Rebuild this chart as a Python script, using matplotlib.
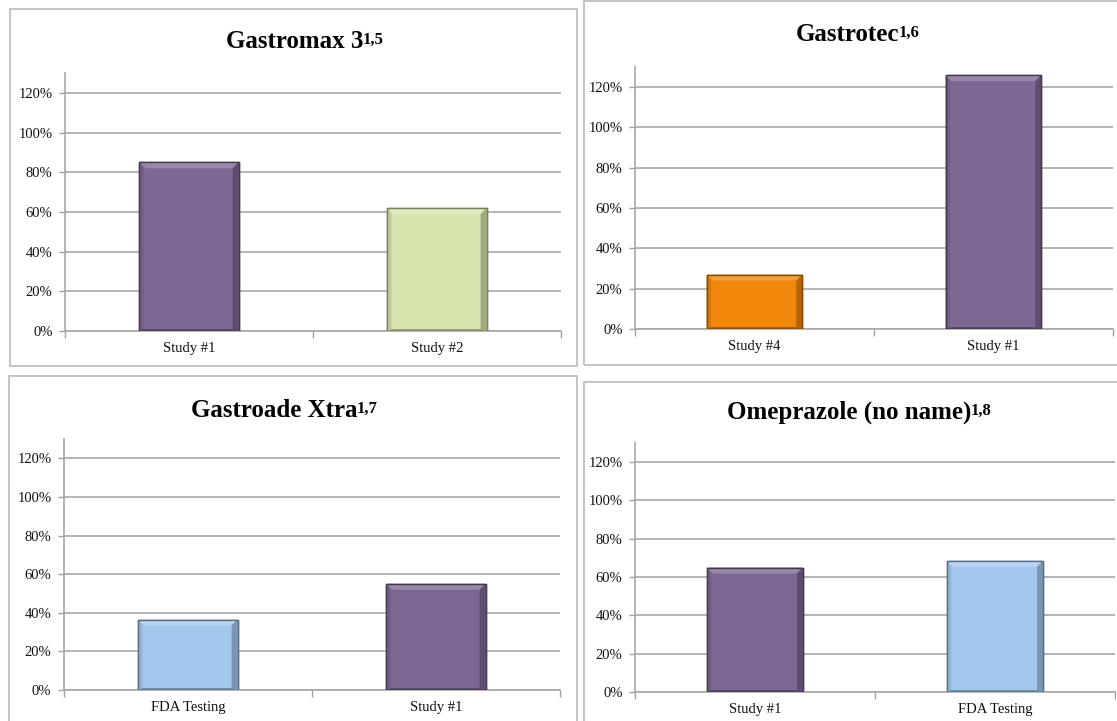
import matplotlib
matplotlib.use("Agg")
import matplotlib.pyplot as plt
from matplotlib.patches import Rectangle, Polygon
from matplotlib.colors import to_rgb
import numpy as np

# ---------------- data ----------------
titles = ["Gastromax 3", "Gastrotec", "Gastroade Xtra", "Omeprazole (no name)"]
refs = ["1,5", "1,6", "1,7", "1,8"]
categories_1 = ["Study #1", "Study #2"]
categories_2 = ["Study #4", "Study #1"]
categories_3 = ["FDA Testing", "Study #1"]
categories_4 = ["Study #1", "FDA Testing"]
values_1 = [85, 62]
values_2 = [27, 126]
values_3 = [36.5, 55]
values_4 = [65, 68.5]
ytick_values = [0, 20, 40, 60, 80, 100, 120]
ytick_labels = [f"{v}%" for v in ytick_values]

# ---------------- style ----------------
PURPLE = "#7d6793"
GREEN = "#d7e4ae"
ORANGE = "#f0860a"
BLUE = "#a4c7ee"
bar_colors = [[PURPLE, GREEN], [ORANGE, PURPLE], [BLUE, PURPLE], [PURPLE, BLUE]]
categories = [categories_1, categories_2, categories_3, categories_4]
values = [values_1, values_2, values_3, values_4]

W, H = 1117, 721
fig = plt.figure(figsize=(W / 100, H / 100), dpi=100)
fig.patch.set_facecolor("white")

SERIF = ["Liberation Serif", "DejaVu Serif"]

# axes boxes in pixels: left, right, zero-line y, top y
axes_px = [(65, 561, 331, 73), (635, 1113, 329, 67), (64, 560, 690, 439), (635, 1115, 692, 443)]
# panel frames in pixels: x0, y0, x1, y1
frames_px = [(10, 9, 577, 366), (584, 1, 1130, 365), (9, 376, 577, 740), (584, 382, 1130, 740)]
# title left x & baseline y in pixels
title_px = [(226, 48), (796, 41), (191, 417), (727, 419)]


def blend(c, other, t):
    c = np.array(to_rgb(c)); o = np.array(to_rgb(other))
    return tuple(c * (1 - t) + o * t)


for (x0, y0, x1, y1) in frames_px:
    fig.patches.append(Rectangle((x0 / W, 1 - y1 / H), (x1 - x0) / W, (y1 - y0) / H,
                                 transform=fig.transFigure, fill=False,
                                 edgecolor="#c4c4c4", linewidth=1.4, zorder=0))

for i in range(4):
    l, r, zy, ty = axes_px[i]
    ax = fig.add_axes([l / W, 1 - zy / H, (r - l) / W, (zy - ty) / H])
    ax.set_facecolor("none")
    x = np.arange(len(categories[i]))
    bars = ax.bar(x, values[i], width=0.40, color=bar_colors[i], zorder=3,
                  edgecolor=[blend(c, "black", 0.45) for c in bar_colors[i]], linewidth=1.0)
    ax.set_xlim(-0.5, len(categories[i]) - 0.5)
    ax.set_ylim(0, 130)
    ax.set_yticks(ytick_values)
    ax.set_yticklabels(ytick_labels, family=SERIF, fontsize=10.5, color="#111111")
    ax.set_xticks(x)
    ax.set_xticklabels(categories[i], family=SERIF, fontsize=10.5, color="#111111")
    ax.set_xticks(np.arange(-0.5, len(categories[i])), minor=True)
    ax.tick_params(axis="x", which="major", length=0, pad=8)
    ax.tick_params(axis="x", which="minor", length=5, color="#a0a0a0", width=1)
    ax.tick_params(axis="y", length=4, color="#a0a0a0", width=1, pad=5)
    ax.grid(axis="y", color="#a8a8a8", linewidth=1.2, zorder=1)
    ax.set_axisbelow(True)
    for s in ["top", "right"]:
        ax.spines[s].set_visible(False)
    for s in ["left", "bottom"]:
        ax.spines[s].set_color("#a8a8a8")
        ax.spines[s].set_linewidth(1.2)

    # bevel effect derived from bar geometry
    fig.canvas.draw()
    inv = ax.transData.inverted()
    p0 = inv.transform((0, 0)); p1 = inv.transform((6, 6))
    dx, dy = p1[0] - p0[0], p1[1] - p0[1]
    for b, c in zip(bars, bar_colors[i]):
        bx, bw, bh = b.get_x(), b.get_width(), b.get_height()
        top = Polygon([(bx, bh), (bx + bw, bh), (bx + bw - dx, bh - dy), (bx + dx, bh - dy)],
                      closed=True, facecolor=blend(c, "white", 0.22), edgecolor="none", zorder=4)
        right = Polygon([(bx + bw, bh), (bx + bw, 0), (bx + bw - dx, dy * 0.3), (bx + bw - dx, bh - dy)],
                        closed=True, facecolor=blend(c, "black", 0.25), edgecolor="none", zorder=4)
        left = Polygon([(bx, bh), (bx, 0), (bx + dx * 0.7, dy * 0.3), (bx + dx * 0.7, bh - dy)],
                       closed=True, facecolor=blend(c, "black", 0.10), edgecolor="none", zorder=4)
        bottom = Polygon([(bx, 0), (bx + bw, 0), (bx + bw - dx, dy * 0.3), (bx + dx * 0.7, dy * 0.3)],
                         closed=True, facecolor=blend(c, "black", 0.35), edgecolor="none", zorder=4)
        for p in (top, right, left, bottom):
            ax.add_patch(p)
        ax.add_patch(Rectangle((bx, 0), bw, bh, fill=False,
                               edgecolor=blend(c, "black", 0.45), linewidth=1.0, zorder=5))

    tx, tyb = title_px[i]
    t = fig.text(tx / W, 1 - tyb / H, titles[i], family=SERIF, fontsize=18,
                 fontweight="bold", ha="left", va="baseline", color="black")
    ax.annotate(refs[i], xy=(1, 1), xycoords=t, xytext=(-0.3, -1), textcoords="offset points",
                ha="left", va="top", family=SERIF, fontsize=12, fontweight="bold",
                color="black", annotation_clip=False)

fig.savefig("out.png", dpi=100, facecolor="white")
